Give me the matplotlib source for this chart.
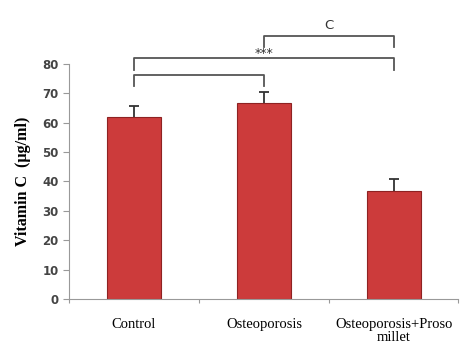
import numpy as np
import matplotlib.pyplot as plt

groups = ['Control', 'Osteoporosis', 'Osteoporosis+Proso\nmillet']
values = [61.8, 66.6, 36.7]
errors = [3.8, 3.8, 4.1]

fig = plt.figure(figsize=(4.72, 3.61), dpi=100)
ax = fig.add_axes([0.146, 0.172, 0.824, 0.651])

x = np.arange(len(groups))
ax.bar(x, values, width=0.41, color='#cc3b3b', edgecolor='#8e2222', linewidth=0.8, zorder=2)
# only upper half of the error bar
tops = np.array(values) + np.array(errors)
ax.vlines(x, values, tops, color='#333333', lw=1.3, zorder=3)
ax.hlines(tops, x - 0.04, x + 0.04, color='#333333', lw=1.3, zorder=3)

ax.set_xlim(-0.5, 2.49)
ax.set_ylim(0, 80)
ax.set_yticks(range(0, 81, 10))
ax.tick_params(axis='y', labelsize=8.5, colors='#999999', length=4, width=0.8)
for lab in ax.get_yticklabels():
    lab.set_fontweight('bold')
    lab.set_color('#444444')

ax.set_xticks([-0.5, 0.5, 1.5, 2.49])
ax.set_xticklabels([])
ax.tick_params(axis='x', length=3, width=0.8, colors='#999999')
for xi, g in zip(x, groups):
    ax.text(xi, -6.5, g, ha='center', va='top', fontsize=10.5, family='Liberation Serif',
            linespacing=1.0)

ax.set_ylabel('Vitamin C  (\u00b5g/ml)', fontsize=11.5, fontweight='bold', family='Liberation Serif',
              labelpad=8)

for s in ['top', 'right']:
    ax.spines[s].set_visible(False)
ax.spines['left'].set_color('#999999')
ax.spines['bottom'].set_color('#999999')

def bracket(x1, x2, yb, yt):
    ax.plot([x1, x1, x2, x2], [yb, yt, yt, yb], color='#555555', lw=1.3, clip_on=False)

bracket(0, 1, 72.4, 76.2)
bracket(0, 2, 77.9, 82.0)
bracket(1, 2, 85.8, 89.5)
ax.text(1, 81.4, '***', ha='center', va='bottom', fontsize=9, color='#333333')
ax.text(1.5, 91.0, 'C', ha='center', va='bottom', fontsize=9.5, color='#333333')

plt.savefig('out.png', dpi=100)
